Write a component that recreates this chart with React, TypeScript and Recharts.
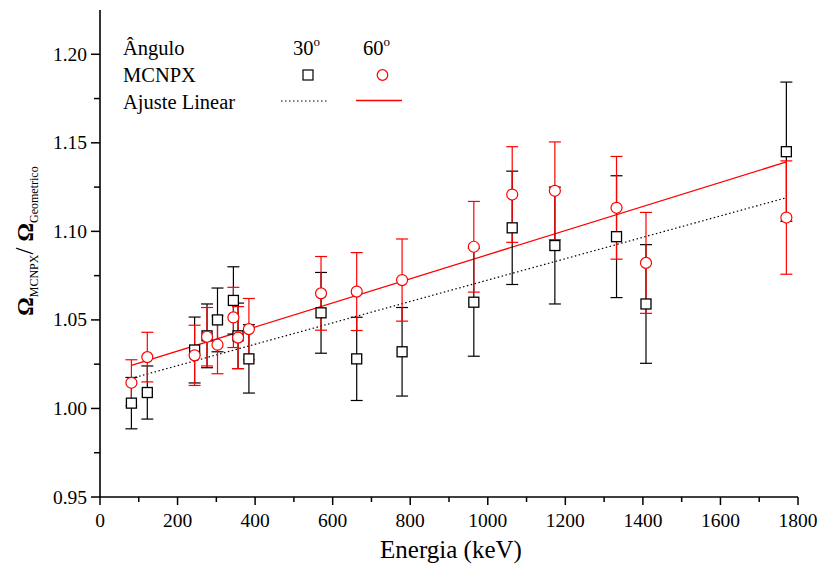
import React from "react"
import { ComposedChart, Scatter, Line, XAxis, YAxis, ErrorBar } from "recharts"

// energies (keV) of the gamma lines
const energy = [81, 122, 244, 276, 303, 344, 356, 384, 570, 662, 779, 964, 1063, 1173, 1332, 1408, 1770]

// 30 degrees - MCNPX / geometric ratio and its uncertainty
const ratio30 = [1.003, 1.009, 1.033, 1.041, 1.05, 1.061, 1.041, 1.028, 1.054, 1.028, 1.032, 1.06, 1.102, 1.092, 1.097, 1.059, 1.145]
const err30 = [0.0145, 0.015, 0.0186, 0.018, 0.018, 0.019, 0.0185, 0.0193, 0.0228, 0.0235, 0.025, 0.0305, 0.032, 0.033, 0.0344, 0.0335, 0.0393]

// 60 degrees
const ratio60 = [1.0145, 1.029, 1.03, 1.0405, 1.036, 1.0514, 1.04, 1.0448, 1.065, 1.066, 1.0725, 1.0913, 1.1208, 1.1229, 1.1133, 1.0822, 1.1078]
const err60 = [0.013, 0.014, 0.017, 0.0165, 0.0164, 0.017, 0.0175, 0.0173, 0.0208, 0.022, 0.0232, 0.0256, 0.027, 0.0276, 0.029, 0.0285, 0.032]

// linear fit end points
const fitX = [81, 1770]
const fit30 = [1.017, 1.119]
const fit60 = [1.0243, 1.1392]

const xTicks = [0, 100, 200, 300, 400, 500, 600, 700, 800, 900, 1000, 1100, 1200, 1300, 1400, 1500, 1600, 1700, 1800]
const yTicks = [0.95, 0.975, 1.0, 1.025, 1.05, 1.075, 1.1, 1.125, 1.15, 1.175, 1.2]

const data30 = energy.map((x, i) => ({ x, y: ratio30[i], err: err30[i] }))
const data60 = energy.map((x, i) => ({ x, y: ratio60[i], err: err60[i] }))
const line30 = fitX.map((x, i) => ({ x, y: fit30[i] }))
const line60 = fitX.map((x, i) => ({ x, y: fit60[i] }))

const serif = { fontFamily: "Liberation Serif, Times New Roman, Times, DejaVu Serif, serif" }
const isMajorX = (v: number) => v % 200 === 0
const isMajorY = (v: number) => Math.abs(Math.round(v * 20) - v * 20) < 1e-6

const BottomTick = ({ x, y, payload }: any) => {
  const major = isMajorX(payload.value)
  return (
    <g>
      <line x1={x} x2={x} y1={y} y2={y + (major ? 8 : 5)} stroke="#000" strokeWidth={1.5} />
      {major && (
        <text x={x} y={y + 30} textAnchor="middle" fontSize={19.5} style={serif} fill="#000">
          {payload.value}
        </text>
      )}
    </g>
  )
}

const TopTick = ({ x, y, payload }: any) => {
  const major = isMajorX(payload.value)
  return <line x1={x} x2={x} y1={y} y2={y + (major ? 8 : 5)} stroke="#000" strokeWidth={1.5} />
}

const LeftTick = ({ x, y, payload }: any) => {
  const major = isMajorY(payload.value)
  return (
    <g>
      <line x1={x - (major ? 9 : 6)} x2={x} y1={y} y2={y} stroke="#000" strokeWidth={1.5} />
      {major && (
        <text x={x - 13} y={y + 6.5} textAnchor="end" fontSize={19.5} style={serif} fill="#000">
          {payload.value.toFixed(2)}
        </text>
      )}
    </g>
  )
}

const RightTick = ({ x, y, payload }: any) => {
  const major = isMajorY(payload.value)
  return <line x1={x - (major ? 9 : 6)} x2={x} y1={y} y2={y} stroke="#000" strokeWidth={1.5} />
}

const Square = ({ cx, cy }: any) => (
  <rect x={cx - 5} y={cy - 5} width={10} height={10} fill="#fff" stroke="#000" strokeWidth={1.3} />
)
const Circle = ({ cx, cy }: any) => (
  <circle cx={cx} cy={cy} r={5.5} fill="#fff" stroke="#ff0000" strokeWidth={1.2} />
)

export default function App() {
  return (
    <div style={{ position: "absolute", left: 0, top: 0, width: 819, height: 567, background: "#fff", ...serif }}>
      <ComposedChart width={819} height={567} margin={{ top: 10, right: 21, bottom: 0, left: 0 }}>
        <XAxis
          xAxisId="b"
          dataKey="x"
          type="number"
          domain={[0, 1800]}
          ticks={xTicks}
          interval={0}
          height={70}
          tickSize={0}
          tickMargin={0}
          tickLine={false}
          tick={<BottomTick />}
          axisLine={{ stroke: "#000", strokeWidth: 1.6 }}
        />
        <XAxis
          xAxisId="t"
          orientation="top"
          dataKey="x"
          type="number"
          domain={[0, 1800]}
          ticks={xTicks}
          interval={0}
          height={0}
          tickSize={0}
          tickMargin={0}
          tickLine={false}
          tick={<TopTick />}
          axisLine={{ stroke: "#000", strokeWidth: 1.6 }}
        />
        <YAxis
          yAxisId="l"
          dataKey="y"
          type="number"
          domain={[0.95, 1.225]}
          ticks={yTicks}
          interval={0}
          width={100}
          tickSize={0}
          tickMargin={0}
          tickLine={false}
          tick={<LeftTick />}
          axisLine={{ stroke: "#000", strokeWidth: 1.6 }}
          allowDataOverflow
        />
        <YAxis
          yAxisId="r"
          orientation="right"
          type="number"
          domain={[0.95, 1.225]}
          ticks={yTicks}
          interval={0}
          width={0}
          tickSize={0}
          tickMargin={0}
          tickLine={false}
          tick={<RightTick />}
          axisLine={{ stroke: "#000", strokeWidth: 1.6 }}
          allowDataOverflow
        />
        <Line
          xAxisId="b"
          yAxisId="l"
          data={line30}
          dataKey="y"
          stroke="#000"
          strokeWidth={1.2}
          strokeDasharray="1.5 2.5"
          dot={false}
          isAnimationActive={false}
        />
        <Line
          xAxisId="b"
          yAxisId="l"
          data={line60}
          dataKey="y"
          stroke="#ff0000"
          strokeWidth={1.3}
          dot={false}
          isAnimationActive={false}
        />
        <Scatter xAxisId="b" yAxisId="l" data={data30} dataKey="y" shape={<Square />} isAnimationActive={false}>
          <ErrorBar dataKey="err" direction="y" width={6} stroke="#000" strokeWidth={1.2} isAnimationActive={false} />
        </Scatter>
        <Scatter xAxisId="b" yAxisId="l" data={data60} dataKey="y" shape={<Circle />} isAnimationActive={false}>
          <ErrorBar dataKey="err" direction="y" width={6} stroke="#ff0000" strokeWidth={1.2} isAnimationActive={false} />
        </Scatter>
      </ComposedChart>

      {/* legend and y axis title */}
      <svg width={819} height={567} style={{ position: "absolute", left: 0, top: 0, pointerEvents: "none", ...serif }}>
        <text x={123} y={55} fontSize={20.5} fill="#000" style={serif}>Ângulo</text>
        <text x={293} y={55} fontSize={20.5} fill="#000" style={serif}>
          30<tspan fontSize={13} dy={-9}>o</tspan>
        </text>
        <text x={363} y={55} fontSize={20.5} fill="#000" style={serif}>
          60<tspan fontSize={13} dy={-9}>o</tspan>
        </text>
        <text x={123} y={82} fontSize={20.5} fill="#000" style={serif}>MCNPX</text>
        <rect x={303} y={70} width={10} height={10} fill="#fff" stroke="#000" strokeWidth={1.2} />
        <circle cx={382.5} cy={75} r={5.3} fill="#fff" stroke="#ff0000" strokeWidth={1.2} />
        <text x={123} y={109} fontSize={20.5} fill="#000" style={serif}>Ajuste Linear</text>
        <line x1={281} x2={328} y1={101} y2={101} stroke="#000" strokeWidth={1.2} strokeDasharray="1.5 2.5" />
        <line x1={356} x2={402} y1={100.5} y2={100.5} stroke="#ff0000" strokeWidth={1.3} />

        <text transform="translate(33,241) rotate(-90)" textAnchor="middle" fill="#000" style={serif}>
          <tspan fontSize={23} fontWeight="bold">Ω</tspan>
          <tspan fontSize={12} dy={5}>MCNPX</tspan>
          <tspan fontSize={25} dy={-5}>/ </tspan>
          <tspan fontSize={23} fontWeight="bold">Ω</tspan>
          <tspan fontSize={12} dy={5}>Geometrico</tspan>
        </text>

        <text x={451} y={558} textAnchor="middle" fontSize={25} fill="#000" style={serif}>Energia (keV)</text>
      </svg>
    </div>
  )
}
